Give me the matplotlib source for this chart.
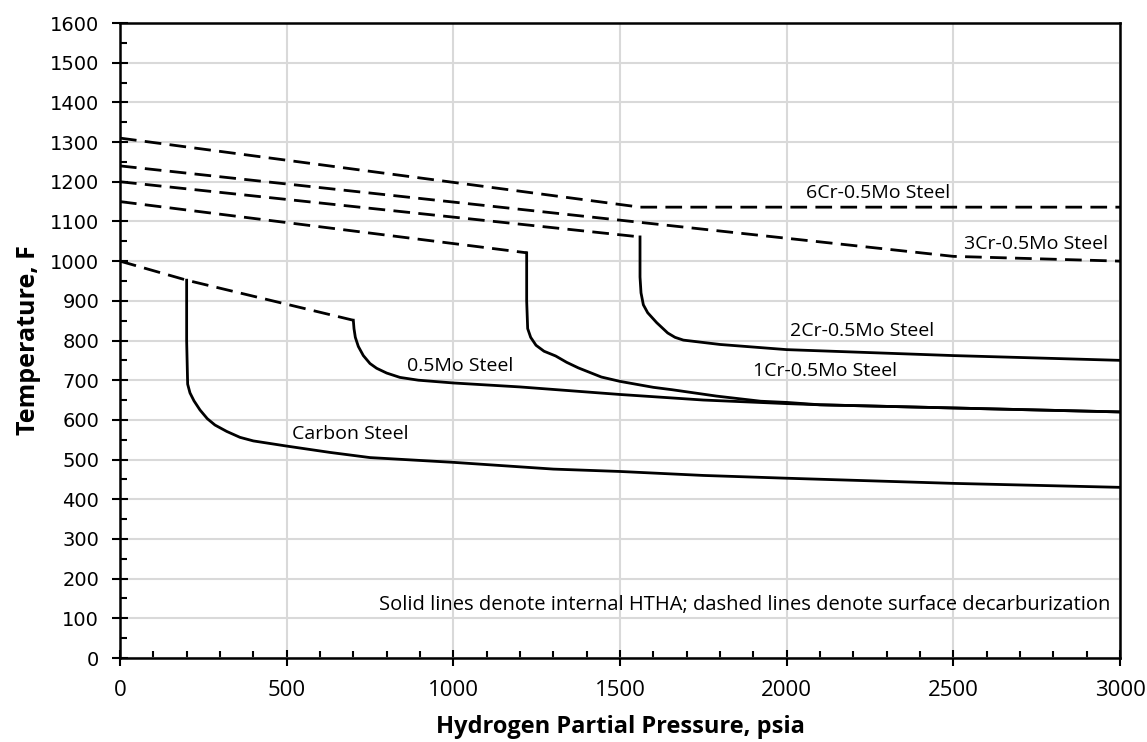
import matplotlib.pyplot as plt
from matplotlib.ticker import MultipleLocator

# Data (pressure psia, temperature F)
mo_dash_p = [0, 200, 700]
mo_dash_t = [1000, 952, 851]

carbon_p = [200, 200, 203, 210, 222, 240, 262, 285, 320, 360, 400, 500, 630, 750, 1000, 1300, 1500, 1750, 2000, 2500, 3000]
carbon_t = [952, 800, 690, 668, 648, 625, 603, 587, 571, 556, 547, 534, 518, 505, 493, 476, 470, 460, 453, 440, 430]

mo_p = [700, 702, 706, 715, 730, 750, 770, 800, 840, 895, 1000, 1200, 1500, 1750, 2000, 2100, 2500, 3000]
mo_t = [851, 830, 808, 785, 762, 742, 730, 718, 707, 700, 693, 683, 664, 650, 641, 638, 630, 620]

cr1_dash_p = [0, 1220]
cr1_dash_t = [1150, 1021]
cr1_p = [1220, 1220, 1223, 1232, 1248, 1272, 1307, 1340, 1375, 1444, 1500, 1600, 1656, 1789, 1922, 2000, 2100, 2500, 3000]
cr1_t = [1021, 900, 830, 808, 788, 773, 761, 745, 731, 708, 697, 682, 676, 660, 647, 644, 638, 630, 620]

cr2_dash_p = [0, 1560]
cr2_dash_t = [1200, 1061]
cr2_p = [1560, 1560, 1563, 1570, 1583, 1610, 1643, 1665, 1690, 1740, 1800, 2000, 2500, 3000]
cr2_t = [1061, 960, 920, 890, 870, 845, 819, 808, 801, 796, 790, 777, 762, 750]

cr3_dash_p = [0, 2500, 3000]
cr3_dash_t = [1240, 1012, 1000]

cr6_dash_p = [0, 1560, 3000]
cr6_dash_t = [1310, 1136, 1136]

labels = ['6Cr-0.5Mo Steel', '3Cr-0.5Mo Steel', '2Cr-0.5Mo Steel', '1Cr-0.5Mo Steel', '0.5Mo Steel', 'Carbon Steel']
label_p = [2274, 2749, 2226, 2116, 1020, 691]
label_t = [1171, 1043, 824, 723, 735, 564]

fig = plt.figure(figsize=(11.47, 7.42), dpi=100)
ax = fig.add_axes([0.1046, 0.1132, 0.8719, 0.8558])

dash = (6, 3)
for p, t in [(mo_dash_p, mo_dash_t), (cr1_dash_p, cr1_dash_t), (cr2_dash_p, cr2_dash_t),
             (cr3_dash_p, cr3_dash_t), (cr6_dash_p, cr6_dash_t)]:
    ax.plot(p, t, color='black', lw=2, dashes=dash, zorder=3)

for p, t in [(carbon_p, carbon_t), (mo_p, mo_t), (cr1_p, cr1_t), (cr2_p, cr2_t)]:
    ax.plot(p, t, color='black', lw=2, zorder=3)

for lab, p, t in zip(labels, label_p, label_t):
    ax.text(p, t, lab, ha='center', va='center', fontsize=14, family='Open Sans')

ax.text(2970, 133, 'Solid lines denote internal HTHA; dashed lines denote surface decarburization',
        ha='right', va='center', fontsize=14.5, family='Open Sans')

ax.set_xlim(0, 3000)
ax.set_ylim(0, 1600)
ax.xaxis.set_major_locator(MultipleLocator(500))
ax.xaxis.set_minor_locator(MultipleLocator(100))
ax.yaxis.set_major_locator(MultipleLocator(100))
ax.yaxis.set_minor_locator(MultipleLocator(50))
ax.grid(True, which='major', color='#d9d9d9', lw=1.5, zorder=0)
ax.set_axisbelow(True)

ax.tick_params(axis='both', which='major', direction='inout', length=12, width=1.5, color='black')
ax.tick_params(axis='both', which='minor', direction='in', length=5, width=1.5, color='black')
ax.tick_params(axis='x', pad=10)
ax.tick_params(axis='y', pad=9)
for lab in ax.get_xticklabels():
    lab.set_family('Open Sans')
    lab.set_fontsize(16)
for lab in ax.get_yticklabels():
    lab.set_family('DejaVu Sans')
    lab.set_fontsize(14)

for s in ax.spines.values():
    s.set_linewidth(1.8)

ax.set_xlabel('Hydrogen Partial Pressure, psia', fontsize=17, fontweight='bold', family='Open Sans', labelpad=10)
ax.set_ylabel('Temperature, F', fontsize=18, fontweight='bold', family='Open Sans', labelpad=6)

plt.savefig('out.png', dpi=100)
